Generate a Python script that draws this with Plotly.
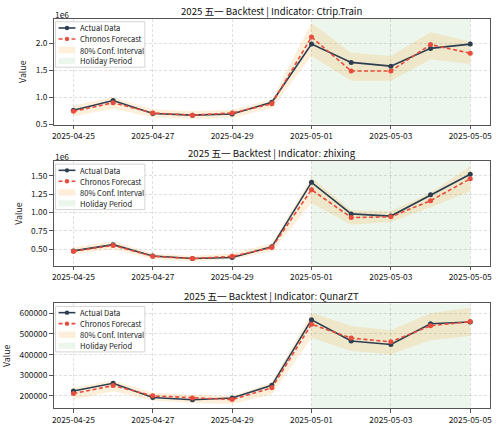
import pandas as pd
import plotly.graph_objects as go

# ---------------- data ----------------
dates = list(pd.date_range("2025-04-25", "2025-05-05", freq="D"))
holiday_start = "2025-05-01"
holiday_end = "2025-05-05"
indicators = ["Ctrip.Train", "zhixing", "QunarZT"]

ctrip_actual = [0.76e6, 0.94e6, 0.70e6, 0.67e6, 0.69e6, 0.91e6, 1.99e6, 1.65e6, 1.58e6, 1.91e6, 1.99e6]
ctrip_forecast = [0.74e6, 0.90e6, 0.71e6, 0.67e6, 0.71e6, 0.88e6, 2.12e6, 1.49e6, 1.49e6, 1.98e6, 1.82e6]
ctrip_lower = [0.65e6, 0.79e6, 0.63e6, 0.60e6, 0.62e6, 0.80e6, 1.77e6, 1.31e6, 1.31e6, 1.71e6, 1.62e6]
ctrip_upper = [0.85e6, 1.00e6, 0.78e6, 0.74e6, 0.77e6, 0.96e6, 2.38e6, 1.83e6, 1.77e6, 2.21e6, 2.04e6]

zhixing_actual = [0.475e6, 0.56e6, 0.405e6, 0.37e6, 0.385e6, 0.53e6, 1.41e6, 0.98e6, 0.95e6, 1.24e6, 1.52e6]
zhixing_forecast = [0.47e6, 0.55e6, 0.40e6, 0.37e6, 0.40e6, 0.52e6, 1.31e6, 0.93e6, 0.94e6, 1.16e6, 1.46e6]
zhixing_lower = [0.43e6, 0.50e6, 0.36e6, 0.33e6, 0.36e6, 0.47e6, 1.13e6, 0.83e6, 0.87e6, 1.07e6, 1.29e6]
zhixing_upper = [0.52e6, 0.61e6, 0.44e6, 0.41e6, 0.44e6, 0.58e6, 1.48e6, 1.03e6, 1.02e6, 1.27e6, 1.63e6]

qunar_actual = [224000, 261000, 192000, 181000, 190000, 251000, 569000, 466000, 449000, 550000, 558000]
qunar_forecast = [211000, 250000, 200000, 190000, 182000, 239000, 547000, 480000, 462000, 540000, 560000]
qunar_lower = [182000, 222000, 178000, 166000, 160000, 208000, 482000, 418000, 402000, 470000, 490000]
qunar_upper = [240000, 275000, 215000, 205000, 200000, 265000, 603000, 539000, 518000, 600000, 627000]

x_tick_dates = dates[::2]
x_tick_labels = [d.strftime("%Y-%m-%d") for d in x_tick_dates]

y_ticks_1 = [0.5e6, 1.0e6, 1.5e6, 2.0e6]
y_labels_1 = ["0.5", "1.0", "1.5", "2.0"]
y_ticks_2 = [0.5e6, 0.75e6, 1.0e6, 1.25e6, 1.5e6]
y_labels_2 = ["0.50", "0.75", "1.00", "1.25", "1.50"]
y_ticks_3 = [200000, 300000, 400000, 500000, 600000]
y_labels_3 = ["200000", "300000", "400000", "500000", "600000"]

legend_labels = ["Actual Data", "Chronos Forecast", "80% Conf. Interval", "Holiday Period"]

# ---------------- style ----------------
W, H = 500, 434
FONT = "Noto Sans CJK SC, Noto Sans, sans-serif"
C_ACT = "#2c3e50"
C_FC = "#e74c3c"
C_CI = "rgba(243,156,18,0.16)"
C_HOL = "rgba(0,128,0,0.07)"
GRID = "rgba(0,0,0,0.12)"
AXC = "#555"
TXT = "#1a1a1a"
TICK_SIZE = 8.4
PLOT_L, PLOT_R = 52, 492
panels = [
    dict(top=19, bottom=126, rng=[0.495e6, 2.46e6], tv=y_ticks_1, tt=y_labels_1, offset="1e6",
         a=ctrip_actual, f=ctrip_forecast, lo=ctrip_lower, hi=ctrip_upper),
    dict(top=163, bottom=269, rng=[0.27e6, 1.70e6], tv=y_ticks_2, tt=y_labels_2, offset="1e6",
         a=zhixing_actual, f=zhixing_forecast, lo=zhixing_lower, hi=zhixing_upper),
    dict(top=307, bottom=413, rng=[140000, 648000], tv=y_ticks_3, tt=y_labels_3, offset=None,
         a=qunar_actual, f=qunar_forecast, lo=qunar_lower, hi=qunar_upper),
]


def px(x):
    return x / W


def py(y):
    return 1 - y / H


fig = go.Figure()
shapes = []
annotations = []
layout = {}

for i, (p, name) in enumerate(zip(panels, indicators)):
    n = "" if i == 0 else str(i + 1)
    xa, ya = "x" + n, "y" + n
    # holiday period band (trace-based so it sits under the data)
    fig.add_trace(go.Scatter(x=[holiday_start, holiday_end], y=[p["rng"][0], p["rng"][0]],
                             mode="lines", line=dict(width=0), xaxis=xa, yaxis=ya,
                             showlegend=False, hoverinfo="skip"))
    fig.add_trace(go.Scatter(x=[holiday_start, holiday_end], y=[p["rng"][1], p["rng"][1]],
                             mode="lines", line=dict(width=0), fill="tonexty", fillcolor=C_HOL,
                             xaxis=xa, yaxis=ya, showlegend=False, hoverinfo="skip"))
    # CI band
    fig.add_trace(go.Scatter(x=dates, y=p["lo"], mode="lines", line=dict(width=0),
                             xaxis=xa, yaxis=ya, showlegend=False, hoverinfo="skip"))
    fig.add_trace(go.Scatter(x=dates, y=p["hi"], mode="lines", line=dict(width=0),
                             fill="tonexty", fillcolor=C_CI,
                             xaxis=xa, yaxis=ya, showlegend=False, hoverinfo="skip"))
    fig.add_trace(go.Scatter(x=dates, y=p["a"], mode="lines+markers",
                             line=dict(color=C_ACT, width=1.6),
                             marker=dict(color=C_ACT, size=5),
                             xaxis=xa, yaxis=ya, showlegend=False))
    fig.add_trace(go.Scatter(x=dates, y=p["f"], mode="lines+markers",
                             line=dict(color=C_FC, width=1.6, dash="4px,2.5px"),
                             marker=dict(color=C_FC, size=5),
                             xaxis=xa, yaxis=ya, showlegend=False))

    layout["xaxis" + n] = dict(
        domain=[px(PLOT_L), px(PLOT_R)], anchor=ya, type="date",
        range=[dates[0] - pd.Timedelta(hours=12), dates[-1] + pd.Timedelta(hours=12)],
        tickvals=x_tick_dates, ticktext=x_tick_labels,
        showgrid=True, gridcolor=GRID, griddash="3px,2px", gridwidth=0.8,
        showline=True, linecolor=AXC, linewidth=1, mirror=True,
        ticks="outside", ticklen=3.5, tickcolor=AXC,
        tickfont=dict(size=TICK_SIZE, color=TXT, family=FONT), zeroline=False,
    )
    layout["yaxis" + n] = dict(
        domain=[py(p["bottom"]), py(p["top"])], anchor=xa, range=p["rng"],
        tickvals=p["tv"], ticktext=p["tt"],
        showgrid=True, gridcolor=GRID, griddash="3px,2px", gridwidth=0.8,
        showline=True, linecolor=AXC, linewidth=1, mirror=True,
        ticks="outside", ticklen=3.5, tickcolor=AXC,
        tickfont=dict(size=TICK_SIZE, color=TXT, family=FONT), zeroline=False,
        title=dict(text="Value", font=dict(size=8.8, color=TXT, family=FONT), standoff=7),
    )
    # title
    annotations.append(dict(text=f"2025 五一 Backtest | Indicator: {name}", xref="paper", yref="paper",
                            x=px((PLOT_L + PLOT_R) / 2), y=py(p["top"] - 8), xanchor="center",
                            yanchor="middle", showarrow=False, borderpad=0,
                            font=dict(size=9.6, color="#111", family=FONT)))
    if p["offset"]:
        annotations.append(dict(text=p["offset"], xref="paper", yref="paper", x=px(PLOT_L),
                                y=py(p["top"] - 5), xanchor="left", yanchor="middle", showarrow=False,
                                borderpad=0, font=dict(size=TICK_SIZE, color=TXT, family=FONT)))

    # manual legend
    T = p["top"]
    shapes.append(dict(type="rect", xref="paper", yref="paper",
                       x0=px(PLOT_L + 2), x1=px(PLOT_L + 92), y0=py(T + 3), y1=py(T + 49),
                       fillcolor="rgba(255,255,255,0.85)", line=dict(color="#d4d4d4", width=1),
                       layer="above"))
    rows = [T + 9.3, T + 20.4, T + 31.6, T + 42.7]
    lx0, lx1, lxm = PLOT_L + 5, PLOT_L + 22, PLOT_L + 13.5
    shapes.append(dict(type="line", xref="paper", yref="paper", x0=px(lx0), x1=px(lx1),
                       y0=py(rows[0]), y1=py(rows[0]), line=dict(color=C_ACT, width=1.6), layer="above"))
    shapes.append(dict(type="line", xref="paper", yref="paper", x0=px(lx0), x1=px(lx1),
                       y0=py(rows[1]), y1=py(rows[1]), line=dict(color=C_FC, width=1.6, dash="4px,2.5px"),
                       layer="above"))
    for r, c in [(rows[0], C_ACT), (rows[1], C_FC)]:
        shapes.append(dict(type="circle", xref="paper", yref="paper", x0=px(lxm - 2.2), x1=px(lxm + 2.2),
                           y0=py(r + 2.2), y1=py(r - 2.2), fillcolor=c, line_width=0, layer="above"))
    shapes.append(dict(type="rect", xref="paper", yref="paper", x0=px(lx0), x1=px(lx1),
                       y0=py(rows[2] + 3.2), y1=py(rows[2] - 3.2), fillcolor=C_CI, line_width=0,
                       layer="above"))
    shapes.append(dict(type="rect", xref="paper", yref="paper", x0=px(lx0), x1=px(lx1),
                       y0=py(rows[3] + 3.2), y1=py(rows[3] - 3.2), fillcolor=C_HOL, line_width=0,
                       layer="above"))
    for r, lab in zip(rows, legend_labels):
        annotations.append(dict(text=lab, xref="paper", yref="paper", x=px(PLOT_L + 25.5), y=py(r),
                                xanchor="left", yanchor="middle", showarrow=False, borderpad=0,
                                font=dict(size=7.6, color=TXT, family=FONT)))

fig.update_layout(
    width=W, height=H, margin=dict(l=0, r=0, t=0, b=0),
    paper_bgcolor="white", plot_bgcolor="white", showlegend=False,
    shapes=shapes, annotations=annotations, font=dict(family=FONT),
    **layout,
)
fig.write_html("out.html")
